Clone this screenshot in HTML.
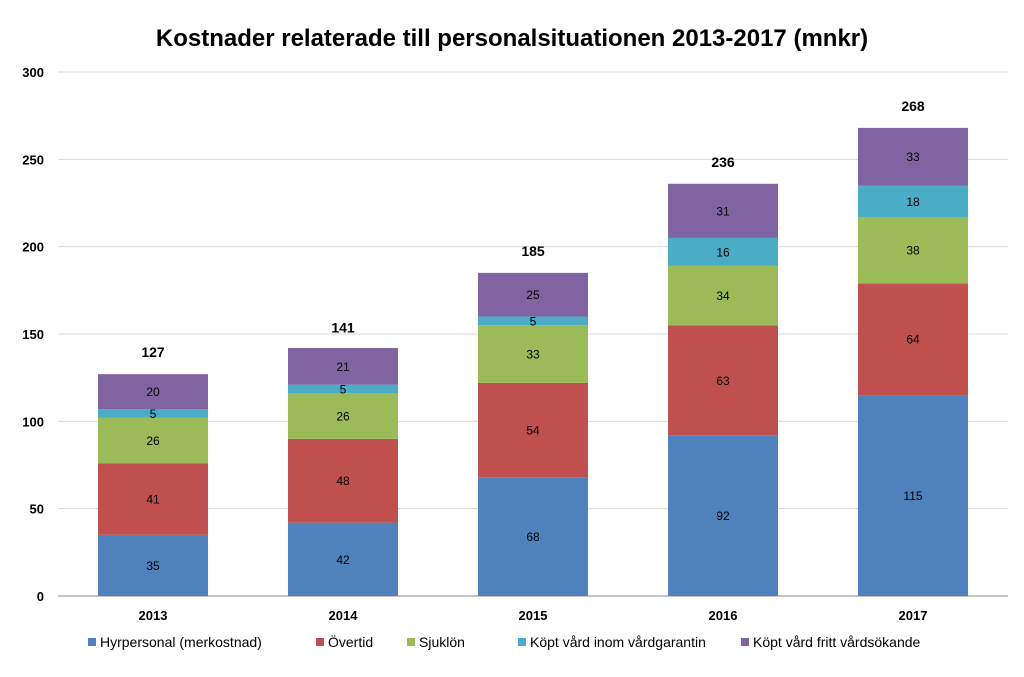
<!DOCTYPE html>
<html><head><meta charset="utf-8"><style>
body{margin:0;background:#fff;width:1024px;height:672px;overflow:hidden;font-family:"Liberation Sans",sans-serif}
svg text{font-family:"Liberation Sans",sans-serif}
</style></head><body>
<svg id="chart" width="1024" height="672">
<text x="512" y="46" text-anchor="middle" font-size="24" font-weight="bold" fill="#000">Kostnader relaterade till personalsituationen 2013-2017 (mnkr)</text>
<g id="grid"></g><g id="bars"></g><g id="legend"></g>
</svg>
<script>
const categories=["2013","2014","2015","2016","2017"];
const seriesNames=["Hyrpersonal (merkostnad)","Övertid","Sjuklön","Köpt vård inom vårdgarantin","Köpt vård fritt vårdsökande"];
const hyrpersonal=[35,42,68,92,115];
const overtid=[41,48,54,63,64];
const sjuklon=[26,26,33,34,38];
const vardgaranti=[5,5,5,16,18];
const frittVard=[20,21,25,31,33];
const totals=[127,141,185,236,268];
const yTicks=[0,50,100,150,200,250,300];
const series=[hyrpersonal,overtid,sjuklon,vardgaranti,frittVard];
const colors=["#4f81bd","#c0504d","#9bbb59","#4bacc6","#8064a2"];
const NS="http://www.w3.org/2000/svg";
const y0=596,yTop=72,plotL=58,plotR=1008;
const y=v=>y0-(v/300)*(y0-yTop);
const band=(plotR-plotL)/categories.length;
const xc=i=>plotL+band*(i+0.5);
const bw=110;
function mk(tag,attrs,parent){const e=document.createElementNS(NS,tag);for(const k in attrs)e.setAttribute(k,attrs[k]);parent.appendChild(e);return e;}
const grid=document.getElementById('grid');
yTicks.forEach(t=>{
 const l=mk('line',{x1:plotL,x2:plotR,y1:y(t),y2:y(t),stroke:t===0?'#888':'#d9d9d9','stroke-width':1},grid);
 
 
 const tx=mk('text',{x:44,y:y(t)+5,'text-anchor':'end','font-size':13,'font-weight':'bold',fill:'#000'},grid);
 tx.textContent=t;
 
 
});
const bars=document.getElementById('bars');
categories.forEach((c,i)=>{
 let acc=0;
 series.forEach((s,j)=>{
  const v=s[i];
  const r=mk('rect',{x:xc(i)-bw/2,y:y(acc+v),width:bw,height:y(acc)-y(acc+v),fill:colors[j]},bars);
  
  
  const t=mk('text',{x:xc(i),y:(y(acc)+y(acc+v))/2+4.5,'text-anchor':'middle','font-size':12,fill:'#000'},bars);
  t.textContent=v;
  
  
  acc+=v;
 });
 const tt=mk('text',{x:xc(i),y:y(totals[i])-17,'text-anchor':'middle','font-size':14,'font-weight':'bold',fill:'#000'},bars);
 tt.textContent=totals[i];
 
 
 const xl=mk('text',{x:xc(i),y:620,'text-anchor':'middle','font-size':13,'font-weight':'bold',fill:'#000'},bars);
 xl.textContent=c;
 
 
});
const legend=document.getElementById('legend');
const lx=[88,316,407,518,741];
seriesNames.forEach((n,j)=>{
 const r=mk('rect',{x:lx[j],y:638,width:8,height:8,fill:colors[j]},legend);
 
 
 const t=mk('text',{x:lx[j]+12,y:647,'font-size':14,fill:'#000'},legend);
 t.textContent=n;
 
 
});
</script>
</body></html>
